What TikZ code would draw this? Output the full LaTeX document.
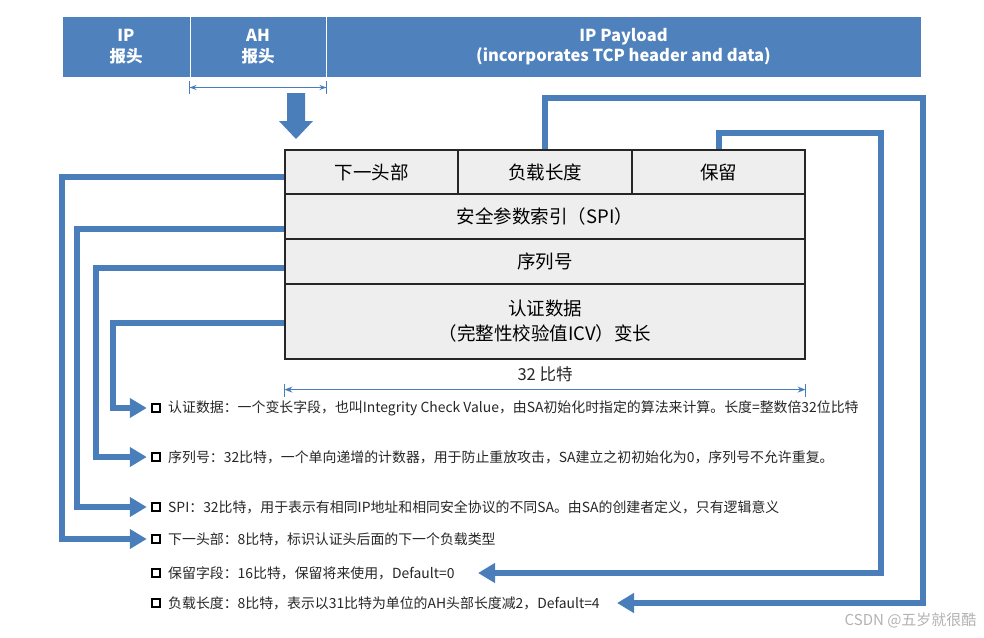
\documentclass[tikz,border=0pt]{standalone}
\usepackage{fontspec}
\setmainfont{Noto Sans CJK SC}
\usetikzlibrary{arrows.meta,calc}
\definecolor{barblue}{HTML}{4F81BD}
\definecolor{lineblue}{HTML}{4A7EBB}
\definecolor{cellgray}{HTML}{EEEEEE}
\tikzset{
  bar/.style={draw=white, line width=1pt, fill=barblue, text=white, inner sep=0pt,
    minimum height=61pt, align=center, font=\fontsize{16.5}{20.5}\selectfont\bfseries},
  cell/.style={draw=black!85, line width=1.2pt, fill=cellgray, inner sep=0pt, align=center,
    font=\fontsize{18.5}{25}\selectfont},
  conn/.style={draw=lineblue, line width=6pt, -{Triangle[length=17pt,width=19pt]}},
  bullet/.style={draw=black, line width=2pt, minimum size=8.5pt, inner sep=0pt},
  desc/.style={anchor=west, inner sep=0pt, font=\fontsize{13.9}{16}\selectfont, text=black!85},
  dim/.style={draw=lineblue, line width=1.5pt},
}
\begin{document}
\begin{tikzpicture}[x=1pt,y=-1pt]
\useasboundingbox (0,0) rectangle (984,637);
% top bar
\node[bar, minimum width=128pt] (ip) at (126,46.5) {IP\\报头};
\node[bar, minimum width=136pt] (ah) at (258,46.5) {AH\\报头};
\node[bar, minimum width=595pt] (pay) at (623.5,46.5) {IP Payload\\(incorporates TCP header and data)};
% AH span arrow
\draw[dim] ([yshift=-3pt]ah.south west) -- ([yshift=-16pt]ah.south west);
\draw[dim] ([yshift=-3pt]ah.south east) -- ([yshift=-16pt]ah.south east);
\draw[dim, {Stealth[length=7pt,width=5pt]}-{Stealth[length=7pt,width=5pt]}]
  ([yshift=-10pt]ah.south west) -- ([yshift=-10pt]ah.south east);
% block arrow down
\fill[lineblue] (287,93) -- (305,93) -- (305,121) -- (313,121) -- (296,139) -- (279,121) -- (287,121) -- cycle;
% table
\node[cell, minimum width=173pt, minimum height=44pt] (nh) at (371.5,172) {下一头部};
\node[cell, minimum width=174pt, minimum height=44pt] (pl) at (545,172) {负载长度};
\node[cell, minimum width=173pt, minimum height=44pt] (rs) at (718.5,172) {保留};
\node[cell, minimum width=520pt, minimum height=45pt] (spi) at (545,216.5) {安全参数索引（SPI）};
\node[cell, minimum width=520pt, minimum height=45pt] (seq) at (545,261.5) {序列号};
\node[cell, minimum width=520pt, minimum height=75pt] (auth) at (545,321.5) {认证数据\\（完整性校验值ICV）变长};
% 32 bit dimension
\node[font=\fontsize{16.5}{19}\selectfont, text=black!85] (bits) at (545,374) {32 比特};
\draw[dim] ([yshift=-24pt]auth.south west) -- ([yshift=-37pt]auth.south west);
\draw[dim] ([yshift=-24pt]auth.south east) -- ([yshift=-37pt]auth.south east);
\draw[dim, {Stealth[length=8pt,width=6pt]}-{Stealth[length=8pt,width=6pt]}]
  ([yshift=-30pt]auth.south west) -- ([yshift=-30pt]auth.south east);
% bullets and descriptions
\node[bullet] (b1) at (156,408) {};
\node[bullet] (b2) at (156,457) {};
\node[bullet] (b3) at (156,507) {};
\node[bullet] (b4) at (156,539) {};
\node[bullet] (b5) at (156,573) {};
\node[bullet] (b6) at (156,603) {};
\node[desc] (t1) at (168,408) {认证数据：一个变长字段，也叫Integrity Check Value，由SA初始化时指定的算法来计算。长度=整数倍32位比特};
\node[desc] (t2) at (168,457) {序列号：32比特，一个单向递增的计数器，用于防止重放攻击，SA建立之初初始化为0，序列号不允许重复。};
\node[desc] (t3) at (168,507) {SPI：32比特，用于表示有相同IP地址和相同安全协议的不同SA。由SA的创建者定义，只有逻辑意义};
\node[desc] (t4) at (168,539) {下一头部：8比特，标识认证头后面的下一个负载类型};
\node[desc] (t5) at (168,573) {保留字段：16比特，保留将来使用，Default=0};
\node[desc] (t6) at (168,603) {负载长度：8比特，表示以31比特为单位的AH头部长度减2，Default=4};
\coordinate (e5) at (478,573);
\coordinate (e6) at (617,603);
% left connectors
\draw[conn, shorten >=4pt] ([yshift=-5pt]nh.west) -- ++(-222,0) |- (b4.west);
\draw[conn, shorten >=4pt] ([yshift=-12.5pt]spi.west) -- ++(-207,0) |- (b3.west);
\draw[conn, shorten >=4pt] ([yshift=-6.5pt]seq.west) -- ++(-188,0) |- (b2.west);
\draw[conn, shorten >=4pt] ([yshift=-1.5pt]auth.west) -- ++(-171,0) |- (b1.west);
% right connectors
\draw[conn] (pl.north) |- (923,98) |- (e6);
\draw[conn] (rs.north) |- (881,133) |- (e5);
% watermark
\node[anchor=east, text=black!30, font=\fontsize{15}{18}\selectfont] (wm) at (980,620) {CSDN @五岁就很酷};
\end{tikzpicture}
\end{document}
